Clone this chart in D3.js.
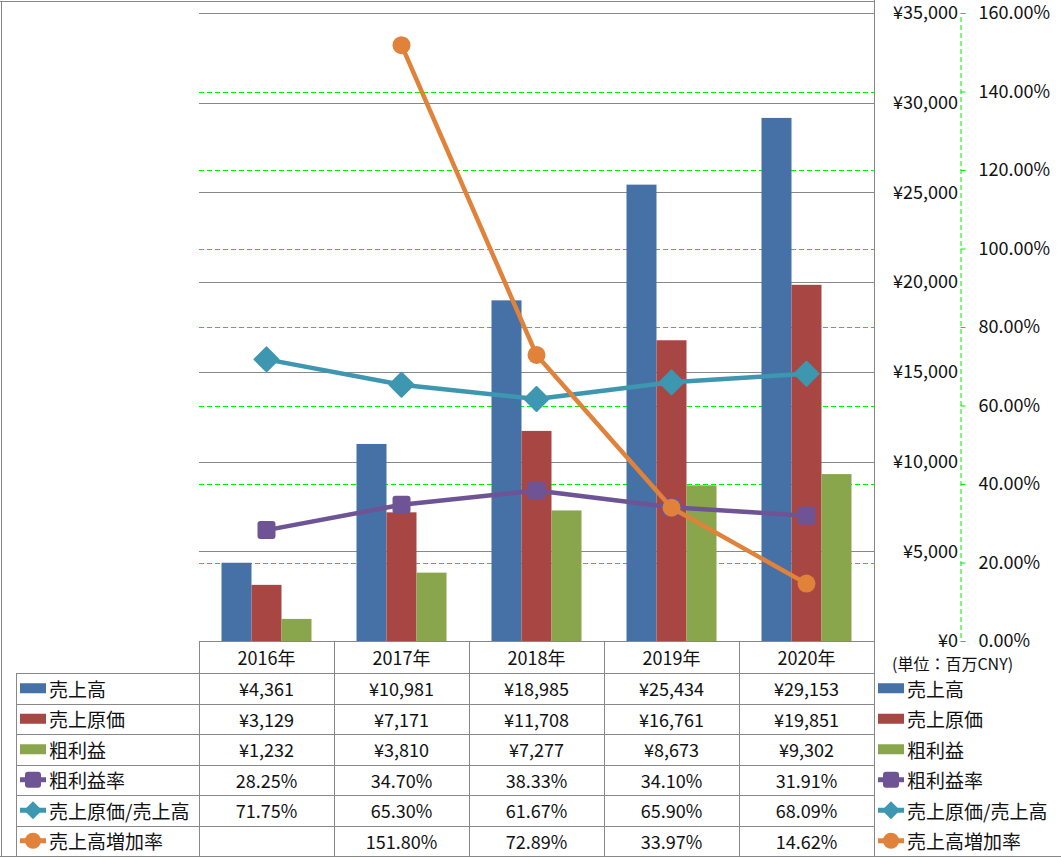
<!DOCTYPE html>
<html><head><meta charset="utf-8">
<script src="https://cdn.jsdelivr.net/npm/d3@7/dist/d3.min.js"></script>
<style>
html,body{margin:0;padding:0;background:#fff;}
svg text{font-family:"Noto Sans CJK JP","Noto Sans",sans-serif;fill:#111;}
</style></head>
<body>
<svg id="c" width="1061" height="858"></svg>
<script>
const years = ['2016年','2017年','2018年','2019年','2020年'];
const sales = [4361,10981,18985,25434,29153];
const cost = [3129,7171,11708,16761,19851];
const gross = [1232,3810,7277,8673,9302];
const grossRate = [0.2825,0.3470,0.3833,0.3410,0.3191];
const costRatio = [0.7175,0.6530,0.6167,0.6590,0.6809];
const growth = [null,1.5180,0.7289,0.3397,0.1462];
const leftTicks = [0,5000,10000,15000,20000,25000,30000,35000];
const rightTicks = [0,0.2,0.4,0.6,0.8,1.0,1.2,1.4,1.6];
const seriesNames = ['売上高','売上原価','粗利益','粗利益率','売上原価/売上高','売上高増加率'];
const unitLabel = '(単位：百万CNY)';

const colors = ['#4571a7','#a84644','#8aa64c','#6e5494','#3d97b0','#e0823a'];
const grid = '#888888';
const lime = '#00ee00';

const svg = d3.select('#c');
const L = 199, R = 874, T = 13, B = 641;
const x = d3.scaleBand().domain(years).range([L,R]);
const yL = d3.scaleLinear().domain([0,35000]).range([B,T]);
const yR = d3.scaleLinear().domain([0,1.6]).range([B,T]);

svg.append('rect').attr('width',1061).attr('height',858).attr('fill','#fff');

// green dashed grid (secondary)
svg.append('g').selectAll('line').data(rightTicks.filter(d=>d>0 && d<1.6)).join('line')
  .attr('x1',L).attr('x2',R).attr('y1',d=>Math.round(yR(d))+0.5).attr('y2',d=>Math.round(yR(d))+0.5)
  .attr('stroke',lime).attr('stroke-width',1).attr('stroke-dasharray','5,3');
// gray grid (primary)
svg.append('g').selectAll('line').data(leftTicks.filter(d=>d>0)).join('line')
  .attr('x1',L).attr('x2',R).attr('y1',d=>Math.round(yL(d))+0.5).attr('y2',d=>Math.round(yL(d))+0.5)
  .attr('stroke',grid).attr('stroke-width',1);

// primary axis labels
const axL = svg.append('g').attr('transform',`translate(960,0)`)
  .call(d3.axisLeft(yL).tickValues(leftTicks).tickSize(0).tickPadding(2).tickFormat(d=>'¥'+d3.format(',')(d)));
axL.select('.domain').remove();
axL.selectAll('text').style('font-size','18px').style('font-family','"Noto Sans CJK JP",sans-serif').attr('fill','#111');

// secondary axis
const axR = svg.append('g').attr('transform',`translate(960.5,0)`)
  .call(d3.axisRight(yR).tickValues(rightTicks).tickSize(5).tickPadding(13).tickFormat(d3.format('.2%')));
axR.select('.domain').attr('stroke',lime).attr('stroke-dasharray','5,3');
axR.selectAll('.tick line').attr('stroke',lime);
axR.selectAll('text').style('font-size','18px').style('font-family','"Noto Sans CJK JP",sans-serif').attr('fill','#111');

// plot right border / primary axis line
svg.append('line').attr('x1',R+0.5).attr('x2',R+0.5).attr('y1',0).attr('y2',856).attr('stroke',grid);

// bars
const barSeries = [sales,cost,gross];
const bw = 30;
const off = (x.bandwidth()-bw*3)/2;
barSeries.forEach((vals,si)=>{
  svg.append('g').selectAll('rect').data(vals).join('rect')
    .attr('x',(d,i)=>x(years[i])+off+si*bw)
    .attr('width',bw)
    .attr('y',d=>yL(d)).attr('height',d=>B-yL(d))
    .attr('fill',colors[si]);
});

// lines
const cx = i => x(years[i])+x.bandwidth()/2;
const lineGen = d3.line().defined(d=>d.v!=null).x(d=>cx(d.i)).y(d=>yR(d.v));
function drawLine(vals,color,marker){
  const pts = vals.map((v,i)=>({v,i}));
  svg.append('path').datum(pts).attr('d',lineGen).attr('fill','none').attr('stroke',color).attr('stroke-width',4.5).attr('stroke-linejoin','round');
  const g = svg.append('g');
  pts.filter(p=>p.v!=null).forEach(p=>{
    const px=cx(p.i), py=yR(p.v);
    if(marker==='square'){
      g.append('rect').attr('x',px-9).attr('y',py-9).attr('width',18).attr('height',18).attr('rx',3).attr('fill',color);
    } else if(marker==='diamond'){
      g.append('path').attr('d',`M${px},${py-12}L${px+12},${py}L${px},${py+12}L${px-12},${py}Z`).attr('fill',color).attr('stroke',color).attr('stroke-width',2).attr('stroke-linejoin','round');
    } else {
      g.append('circle').attr('cx',px).attr('cy',py).attr('r',9).attr('fill',color);
    }
  });
}
drawLine(grossRate,colors[3],'square');
drawLine(costRatio,colors[4],'diamond');
drawLine(growth,colors[5],'circle');

// table
const rowsY = [641,673,703.5,734,764.5,795,825.5,856];
const colX = [199,334,469,604,739,874];
const tg = svg.append('g').attr('stroke',grid).attr('stroke-width',1);
tg.append('line').attr('x1',L).attr('x2',R).attr('y1',B+0.5).attr('y2',B+0.5);
rowsY.slice(1,7).forEach(y=>tg.append('line').attr('x1',16).attr('x2',R).attr('y1',Math.round(y)+0.5).attr('y2',Math.round(y)+0.5));
colX.forEach(cx0=>tg.append('line').attr('x1',cx0+0.5).attr('x2',cx0+0.5).attr('y1',B).attr('y2',856));
tg.append('line').attr('x1',16.5).attr('x2',16.5).attr('y1',673).attr('y2',856);
// outer border
tg.append('line').attr('x1',0).attr('x2',1061).attr('y1',856.5).attr('y2',856.5);
tg.append('line').attr('x1',0).attr('x2',R+0.5).attr('y1',1.5).attr('y2',1.5);
tg.append('line').attr('x1',1.5).attr('x2',1.5).attr('y1',1).attr('y2',857);

const txt = (xx,yy,s,anchor,size)=>svg.append('text').attr('x',xx).attr('y',yy).attr('text-anchor',anchor||'middle')
  .attr('dominant-baseline','central').style('font-size',(size||18)+'px').text(s);

years.forEach((yname,i)=>txt(cx(i),657,yname));
const fmtY = d=>'¥'+d3.format(',')(d);
const fmtP = d=>d==null?'':d3.format('.2%')(d);
const tableData = [sales.map(fmtY),cost.map(fmtY),gross.map(fmtY),grossRate.map(fmtP),costRatio.map(fmtP),growth.map(fmtP)];
tableData.forEach((row,r)=>{
  const ym = (rowsY[r+1]+rowsY[r+2])/2;
  row.forEach((s,i)=>txt(cx(i),ym,s));
});

function legendItem(x0,ym,si){
  const c = colors[si];
  if(si<3){
    svg.append('rect').attr('x',x0).attr('y',ym-5).attr('width',26).attr('height',10).attr('fill',c);
  } else {
    svg.append('line').attr('x1',x0).attr('x2',x0+26).attr('y1',ym).attr('y2',ym).attr('stroke',c).attr('stroke-width',5);
    const mx=x0+13;
    if(si===3) svg.append('rect').attr('x',mx-8).attr('y',ym-8).attr('width',16).attr('height',16).attr('rx',3).attr('fill',c);
    else if(si===4) svg.append('path').attr('d',`M${mx},${ym-9}L${mx+9},${ym}L${mx},${ym+9}L${mx-9},${ym}Z`).attr('fill',c);
    else svg.append('circle').attr('cx',mx).attr('cy',ym).attr('r',8).attr('fill',c);
  }
  txt(x0+29,ym,seriesNames[si],'start',19);
}
seriesNames.forEach((n,si)=>{
  const ym = (rowsY[si+1]+rowsY[si+2])/2;
  legendItem(20,ym,si);
  legendItem(878,ym,si);
});
txt(892,663,unitLabel,'start',16);
</script>
</body></html>
